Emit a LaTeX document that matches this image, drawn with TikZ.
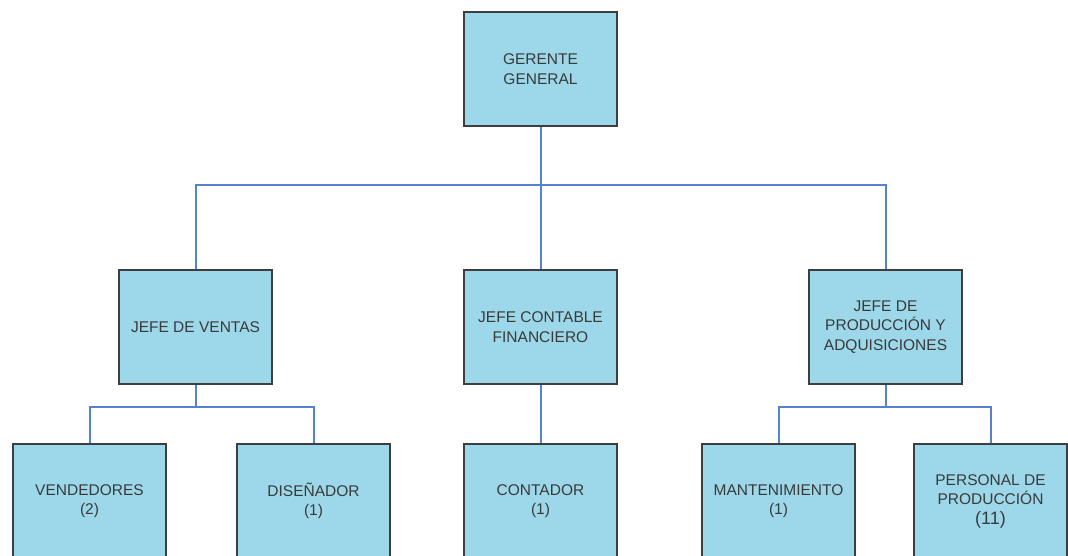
\documentclass[tikz,border=0pt]{standalone}
\usepackage{fontspec}
\setmainfont{Liberation Sans}
\usetikzlibrary{positioning}

\definecolor{cajafondo}{HTML}{9DD8EA}
\definecolor{cajaborde}{HTML}{3E3E3E}
\definecolor{linea}{HTML}{5582CF}
\definecolor{texto}{HTML}{3A3A3A}

\begin{document}
\begin{tikzpicture}[
        x=1pt, y=1pt,
        cargo/.style={draw=cajaborde, fill=cajafondo, line width=2pt, align=center,
            minimum width=153pt, minimum height=114pt, inner sep=2pt,
            text=texto, font=\fontsize{15.5}{19.5}\selectfont},
        conn/.style={draw=linea, line width=2pt}
        ]
        \useasboundingbox (0,0) rectangle (1068,-556);
        \clip (0,0) rectangle (1068,-556);

        \node[cargo] (gerente) at (540.5,-69) {GERENTE\\GENERAL};
        \node[cargo] (contable) [below=142pt of gerente] {JEFE CONTABLE\\FINANCIERO};
        \node[cargo] (ventas) [left=190pt of contable] {JEFE DE VENTAS};
        \node[cargo] (produccion) [right=190pt of contable] {JEFE DE\\PRODUCCIÓN Y\\ADQUISICIONES};

        \node[cargo] (contador) [below=58pt of contable] {CONTADOR\\(1)};
        \node[cargo] (vendedores) [below=58pt of ventas, xshift=-106pt] {VENDEDORES\\(2)};
        \node[cargo] (disenador) [below=58pt of ventas, xshift=118pt] {DISEÑADOR\\(1)};
        \node[cargo] (mantenimiento) [below=58pt of produccion, xshift=-107pt] {MANTENIMIENTO\\(1)};
        \node[cargo] (personal) [below=58pt of produccion, xshift=105pt] {PERSONAL DE\\PRODUCCIÓN\\{\fontsize{18}{20}\selectfont (11)}};

        % buses
        \coordinate[below=58pt of gerente.south] (bus1);
        \coordinate[below=22pt of ventas.south] (bus2);
        \coordinate[below=22pt of produccion.south] (bus3);

        \draw[conn] (gerente.south) -- (contable.north);
        \draw[conn] (ventas.north) |- (bus1) -| (produccion.north);
        \draw[conn] (contable.south) -- (contador.north);

        \draw[conn] (ventas.south) -- (bus2);
        \draw[conn] (vendedores.north) |- (bus2) -| (disenador.north);

        \draw[conn] (produccion.south) -- (bus3);
        \draw[conn] (mantenimiento.north) |- (bus3) -| (personal.north);
    \end{tikzpicture}
\end{document}
